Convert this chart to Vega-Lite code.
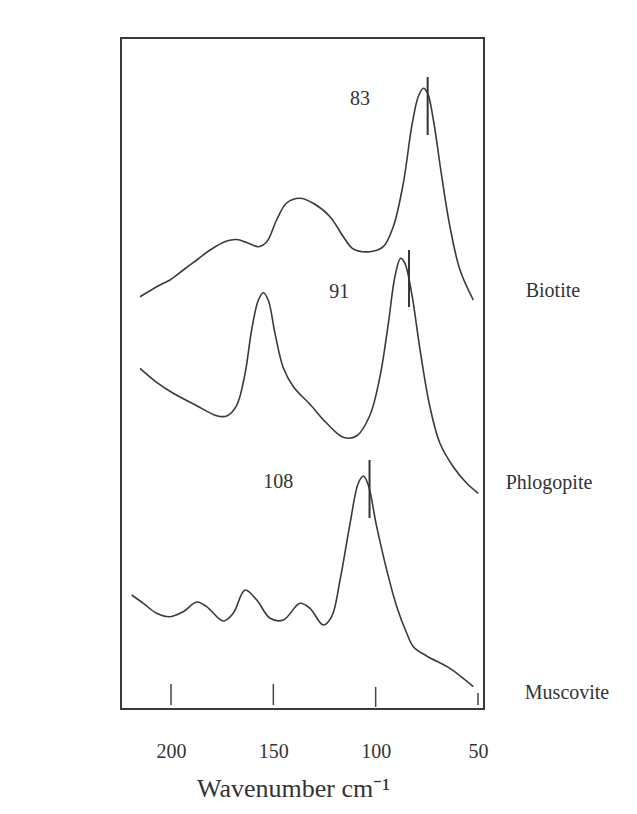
{
  "$schema": "https://vega.github.io/schema/vega-lite/v6.json",
  "width": 363,
  "height": 671,
  "autosize": "none",
  "padding": {"left": 121, "top": 38, "right": 153, "bottom": 105},
  "background": "#ffffff",
  "config": {
    "view": {"stroke": "#3a3a3a", "strokeWidth": 2},
    "font": "Liberation Serif"
  },
  "datasets": {
    "spectra": [
      {"sample": "Biotite", "w": 215.15, "y": 412.3},
      {"sample": "Biotite", "w": 205.4, "y": 424},
      {"sample": "Biotite", "w": 200.5, "y": 429},
      {"sample": "Biotite", "w": 194.0, "y": 439},
      {"sample": "Biotite", "w": 187.4, "y": 449},
      {"sample": "Biotite", "w": 180.9, "y": 459},
      {"sample": "Biotite", "w": 172.8, "y": 468},
      {"sample": "Biotite", "w": 167.9, "y": 469.5},
      {"sample": "Biotite", "w": 163.0, "y": 466.5},
      {"sample": "Biotite", "w": 157.3, "y": 462.3},
      {"sample": "Biotite", "w": 153.2, "y": 467.3},
      {"sample": "Biotite", "w": 148.4, "y": 489},
      {"sample": "Biotite", "w": 143.5, "y": 506},
      {"sample": "Biotite", "w": 137.0, "y": 510.7},
      {"sample": "Biotite", "w": 130.5, "y": 505.7},
      {"sample": "Biotite", "w": 122.3, "y": 492.3},
      {"sample": "Biotite", "w": 115.8, "y": 472.3},
      {"sample": "Biotite", "w": 110.9, "y": 460},
      {"sample": "Biotite", "w": 102.8, "y": 457.3},
      {"sample": "Biotite", "w": 96.3, "y": 462.3},
      {"sample": "Biotite", "w": 91.4, "y": 482.3},
      {"sample": "Biotite", "w": 86.5, "y": 525.7},
      {"sample": "Biotite", "w": 82.4, "y": 582.3},
      {"sample": "Biotite", "w": 79.2, "y": 612.3},
      {"sample": "Biotite", "w": 76.7, "y": 620.7},
      {"sample": "Biotite", "w": 74.6, "y": 615.7},
      {"sample": "Biotite", "w": 71.8, "y": 589},
      {"sample": "Biotite", "w": 67.7, "y": 532.3},
      {"sample": "Biotite", "w": 63.7, "y": 482.3},
      {"sample": "Biotite", "w": 58.8, "y": 439},
      {"sample": "Biotite", "w": 52.3, "y": 409},
      {"sample": "Phlogopite", "w": 215.15, "y": 340.7},
      {"sample": "Phlogopite", "w": 207.0, "y": 326.7},
      {"sample": "Phlogopite", "w": 198.9, "y": 315.7},
      {"sample": "Phlogopite", "w": 187.4, "y": 303.3},
      {"sample": "Phlogopite", "w": 177.7, "y": 293.3},
      {"sample": "Phlogopite", "w": 172.8, "y": 293},
      {"sample": "Phlogopite", "w": 167.9, "y": 303.7},
      {"sample": "Phlogopite", "w": 163.8, "y": 335.7},
      {"sample": "Phlogopite", "w": 160.6, "y": 379},
      {"sample": "Phlogopite", "w": 157.3, "y": 409},
      {"sample": "Phlogopite", "w": 154.9, "y": 416.3},
      {"sample": "Phlogopite", "w": 152.5, "y": 409},
      {"sample": "Phlogopite", "w": 149.2, "y": 375.7},
      {"sample": "Phlogopite", "w": 145.1, "y": 341},
      {"sample": "Phlogopite", "w": 140.2, "y": 322.3},
      {"sample": "Phlogopite", "w": 132.1, "y": 304.7},
      {"sample": "Phlogopite", "w": 123.9, "y": 285.7},
      {"sample": "Phlogopite", "w": 115.8, "y": 271.7},
      {"sample": "Phlogopite", "w": 109.3, "y": 273},
      {"sample": "Phlogopite", "w": 102.8, "y": 293.7},
      {"sample": "Phlogopite", "w": 97.9, "y": 332.3},
      {"sample": "Phlogopite", "w": 93.8, "y": 385.7},
      {"sample": "Phlogopite", "w": 90.6, "y": 432.3},
      {"sample": "Phlogopite", "w": 87.8, "y": 450.7},
      {"sample": "Phlogopite", "w": 85.7, "y": 445.7},
      {"sample": "Phlogopite", "w": 82.4, "y": 415.7},
      {"sample": "Phlogopite", "w": 78.3, "y": 359},
      {"sample": "Phlogopite", "w": 73.5, "y": 302.3},
      {"sample": "Phlogopite", "w": 68.6, "y": 265.7},
      {"sample": "Phlogopite", "w": 62.1, "y": 242.3},
      {"sample": "Phlogopite", "w": 55.5, "y": 225.7},
      {"sample": "Phlogopite", "w": 49.9, "y": 215.7},
      {"sample": "Muscovite", "w": 219.2, "y": 114},
      {"sample": "Muscovite", "w": 213.5, "y": 105.7},
      {"sample": "Muscovite", "w": 207.0, "y": 95.7},
      {"sample": "Muscovite", "w": 200.5, "y": 92.3},
      {"sample": "Muscovite", "w": 194.0, "y": 97.3},
      {"sample": "Muscovite", "w": 187.4, "y": 107},
      {"sample": "Muscovite", "w": 182.6, "y": 102.3},
      {"sample": "Muscovite", "w": 174.4, "y": 88},
      {"sample": "Muscovite", "w": 169.6, "y": 95.7},
      {"sample": "Muscovite", "w": 163.8, "y": 119},
      {"sample": "Muscovite", "w": 158.1, "y": 109},
      {"sample": "Muscovite", "w": 151.6, "y": 90.7},
      {"sample": "Muscovite", "w": 145.1, "y": 89},
      {"sample": "Muscovite", "w": 137.0, "y": 105.7},
      {"sample": "Muscovite", "w": 132.1, "y": 100.7},
      {"sample": "Muscovite", "w": 125.6, "y": 84},
      {"sample": "Muscovite", "w": 121.5, "y": 92.3},
      {"sample": "Muscovite", "w": 117.4, "y": 129},
      {"sample": "Muscovite", "w": 112.5, "y": 185.7},
      {"sample": "Muscovite", "w": 108.5, "y": 225.7},
      {"sample": "Muscovite", "w": 106.0, "y": 233},
      {"sample": "Muscovite", "w": 103.6, "y": 224},
      {"sample": "Muscovite", "w": 99.5, "y": 182.3},
      {"sample": "Muscovite", "w": 94.6, "y": 139},
      {"sample": "Muscovite", "w": 89.7, "y": 102.3},
      {"sample": "Muscovite", "w": 84.8, "y": 75.7},
      {"sample": "Muscovite", "w": 81.6, "y": 62.3},
      {"sample": "Muscovite", "w": 75.1, "y": 53},
      {"sample": "Muscovite", "w": 63.7, "y": 40.7},
      {"sample": "Muscovite", "w": 52.3, "y": 22.3}
    ],
    "peaks": [
      {"label": "83", "w": 74.6, "y1": 632, "y2": 574, "lw": 107.7, "ly": 610},
      {"label": "91", "w": 83.7, "y1": 459, "y2": 402, "lw": 117.8, "ly": 417},
      {"label": "108", "w": 103.0, "y1": 249, "y2": 191, "lw": 147.6, "ly": 227}
    ],
    "names": [
      {"name": "Biotite", "w": 13.4, "y": 418},
      {"name": "Phlogopite", "w": 15.3, "y": 226},
      {"name": "Muscovite", "w": 6.5, "y": 16}
    ],
    "ticks": [
      {"w": 200, "y1": 4, "y2": 25},
      {"w": 150, "y1": 4, "y2": 25},
      {"w": 100, "y1": 2, "y2": 22},
      {"w": 50, "y1": 4, "y2": 16}
    ]
  },
  "layer": [
    {
      "data": {"name": "spectra"},
      "mark": {"type": "line", "color": "#3a3a3a", "strokeWidth": 1.6, "interpolate": "catmull-rom"},
      "encoding": {
        "x": {
          "field": "w", "type": "quantitative",
          "scale": {"domain": [224.43, 47.07], "nice": false, "zero": false},
          "axis": {
            "values": [200, 150, 100, 50],
            "grid": false, "domain": false, "ticks": false,
            "labelFont": "Liberation Serif", "labelFontSize": 20, "labelColor": "#333333",
            "labelPadding": 32,
            "title": "Wavenumber cm⁻¹",
            "titleFont": "Liberation Serif", "titleFontSize": 26, "titleFontWeight": "normal",
            "titleColor": "#333333", "titlePadding": 14, "titleX": 172
          }
        },
        "y": {
          "field": "y", "type": "quantitative",
          "scale": {"domain": [0, 671], "nice": false, "zero": false},
          "axis": null
        },
        "detail": {"field": "sample"}
      }
    },
    {
      "data": {"name": "peaks"},
      "mark": {"type": "rule", "color": "#333333", "strokeWidth": 2},
      "encoding": {
        "x": {"field": "w", "type": "quantitative"},
        "y": {"field": "y1", "type": "quantitative"},
        "y2": {"field": "y2"}
      }
    },
    {
      "data": {"name": "peaks"},
      "mark": {"type": "text", "font": "Liberation Serif", "fontSize": 20, "color": "#333333", "align": "center", "baseline": "middle"},
      "encoding": {
        "x": {"field": "lw", "type": "quantitative"},
        "y": {"field": "ly", "type": "quantitative"},
        "text": {"field": "label"}
      }
    },
    {
      "data": {"name": "names"},
      "mark": {"type": "text", "font": "Liberation Serif", "fontSize": 20, "color": "#333333", "align": "center", "baseline": "middle"},
      "encoding": {
        "x": {"field": "w", "type": "quantitative"},
        "y": {"field": "y", "type": "quantitative"},
        "text": {"field": "name"}
      }
    },
    {
      "data": {"name": "ticks"},
      "mark": {"type": "rule", "color": "#444444", "strokeWidth": 1.5},
      "encoding": {
        "x": {"field": "w", "type": "quantitative"},
        "y": {"field": "y1", "type": "quantitative"},
        "y2": {"field": "y2"}
      }
    }
  ]
}
